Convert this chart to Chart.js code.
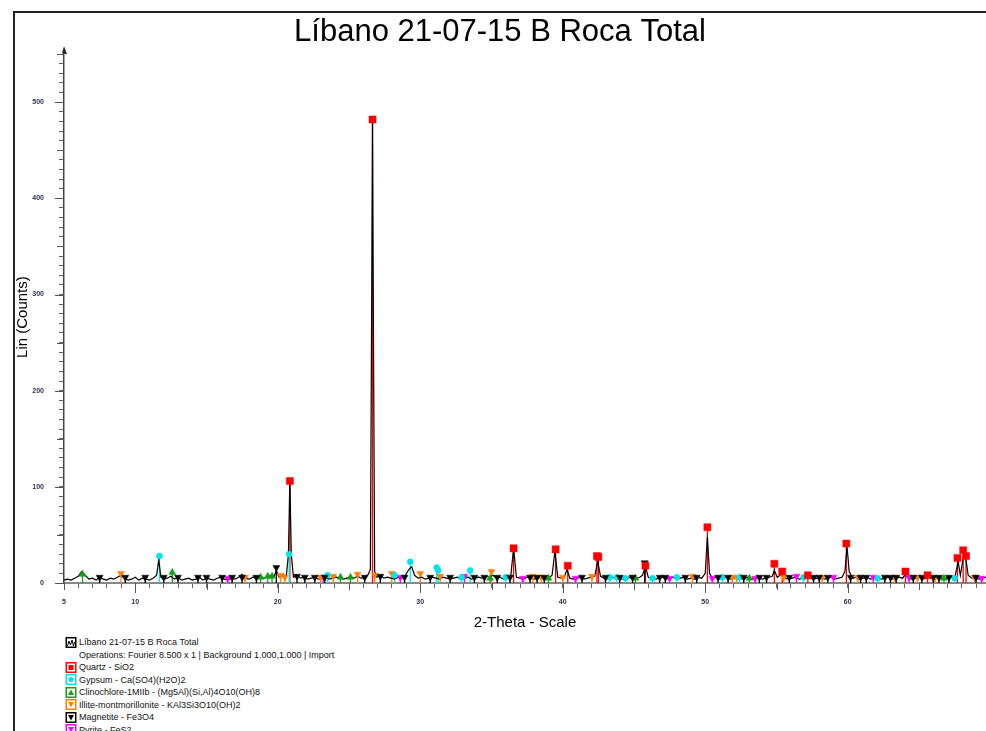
<!DOCTYPE html>
<html>
<head>
<meta charset="utf-8">
<title>Líbano 21-07-15 B Roca Total</title>
<script src="https://cdn.jsdelivr.net/npm/chart.js@4.4.1/dist/chart.umd.min.js"></script>
<style>
  html, body { margin: 0; padding: 0; background: #fff; overflow: hidden; }
  #wrap { position: relative; width: 986px; height: 731px; }
  #frame { position: absolute; left: 13px; top: 11px; width: 990px; height: 740px;
           border-left: 2px solid #222; border-top: 2px solid #222; }
  #chart-box { position: absolute; left: 0; top: 0; width: 986px; height: 632px; }
  #legend { position: absolute; left: 65px; top: 636px; font: 9px "Liberation Sans", Arial, sans-serif; color: #111; }
  #legend .row { height: 12.5px; display: flex; align-items: center; white-space: nowrap; }
  #legend .row svg { flex: none; margin-right: 2px; }
  #legend .note { padding-left: 14px; }
</style>
</head>
<body>
<div id="wrap">
  <div id="frame"></div>
  <div id="chart-box"><canvas id="xrd-chart"></canvas></div>
  <div id="legend"></div>
</div>
<script>
// Diffractogram scan (2-Theta in degrees, Lin counts)
const scanAngle = [
  5.00, 5.25, 5.50, 5.75, 6.00, 6.25, 6.50, 6.75, 7.00, 7.25,
  7.50, 7.75, 8.00, 8.25, 8.50, 8.75, 9.00, 9.25, 9.50, 9.75,
  10.00, 10.25, 10.50, 10.75, 11.00, 11.25, 11.50, 11.65, 11.80, 12.00,
  12.25, 12.50, 12.75, 13.00, 13.25, 13.50, 13.75, 14.00, 14.25, 14.50,
  14.75, 15.00, 15.25, 15.50, 15.75, 16.00, 16.25, 16.50, 16.75, 17.00,
  17.25, 17.50, 17.75, 18.00, 18.25, 18.50, 18.75, 19.00, 19.25, 19.50,
  19.75, 19.90, 20.10, 20.35, 20.60, 20.75, 20.85, 20.95, 21.10, 21.35,
  21.60, 21.85, 22.10, 22.35, 22.60, 22.85, 23.10, 23.35, 23.60, 23.85,
  24.10, 24.35, 24.60, 24.85, 25.10, 25.35, 25.60, 25.85, 26.10, 26.35,
  26.50, 26.60, 26.65, 26.70, 26.80, 26.95, 27.20, 27.45, 27.70, 27.95,
  28.20, 28.45, 28.70, 28.95, 29.20, 29.40, 29.60, 29.85, 30.10, 30.35,
  30.60, 30.85, 31.10, 31.35, 31.60, 31.85, 32.10, 32.35, 32.60, 32.85,
  33.10, 33.35, 33.60, 33.85, 34.10, 34.35, 34.60, 34.85, 35.10, 35.35,
  35.60, 35.85, 36.10, 36.35, 36.55, 36.75, 37.00, 37.25, 37.50, 37.75,
  38.00, 38.25, 38.50, 38.75, 39.00, 39.25, 39.45, 39.65, 39.90, 40.10,
  40.30, 40.50, 40.75, 41.00, 41.25, 41.50, 41.75, 42.00, 42.25, 42.45,
  42.65, 42.90, 43.15, 43.40, 43.65, 43.90, 44.15, 44.40, 44.65, 44.90,
  45.15, 45.40, 45.60, 45.80, 46.00, 46.25, 46.50, 46.75, 47.00, 47.25,
  47.50, 47.75, 48.00, 48.25, 48.50, 48.75, 49.00, 49.25, 49.50, 49.75,
  50.00, 50.15, 50.30, 50.50, 50.75, 51.00, 51.25, 51.50, 51.75, 52.00,
  52.25, 52.50, 52.75, 53.00, 53.25, 53.50, 53.75, 54.00, 54.25, 54.50,
  54.70, 54.85, 55.05, 55.35, 55.60, 55.85, 56.10, 56.35, 56.60, 56.85,
  57.10, 57.35, 57.60, 57.85, 58.10, 58.35, 58.60, 58.85, 59.10, 59.35,
  59.60, 59.80, 59.95, 60.10, 60.35, 60.60, 60.85, 61.10, 61.35, 61.60,
  61.85, 62.10, 62.35, 62.60, 62.85, 63.10, 63.35, 63.60, 63.85, 64.05,
  64.25, 64.50, 64.75, 65.00, 65.25, 65.50, 65.75, 66.00, 66.25, 66.50,
  66.75, 67.00, 67.25, 67.50, 67.75, 67.90, 68.15, 68.30, 68.45, 68.70,
  68.95, 69.20, 69.45, 69.70
];
const scanCounts = [
  3, 4, 3, 5, 7, 12, 8, 4, 5, 3,
  6, 4, 3, 5, 4, 6, 8, 5, 3, 4,
  6, 3, 5, 4, 3, 5, 8, 24, 6, 4,
  5, 7, 4, 6, 3, 4, 5, 3, 4, 6,
  3, 5, 4, 3, 5, 6, 4, 3, 5, 4,
  6, 9, 5, 4, 6, 5, 7, 5, 6, 8,
  7, 13, 6, 9, 7, 30, 108, 30, 6, 8,
  5, 6, 4, 5, 6, 4, 5, 6, 4, 5,
  6, 5, 4, 5, 6, 5, 7, 5, 6, 9,
  14, 320, 480, 310, 12, 6, 8, 5, 6, 5,
  4, 6, 5, 8, 14, 17, 8, 5, 6, 4,
  5, 6, 5, 4, 6, 5, 4, 5, 6, 4,
  5, 6, 4, 5, 6, 5, 7, 6, 8, 5,
  6, 4, 5, 7, 36, 6, 5, 4, 6, 5,
  4, 5, 6, 4, 5, 8, 33, 6, 5, 6,
  14, 5, 4, 5, 6, 4, 5, 6, 7, 23,
  7, 5, 4, 5, 6, 5, 4, 5, 6, 4,
  5, 6, 8, 18, 6, 5, 4, 5, 6, 4,
  5, 6, 4, 5, 6, 4, 5, 4, 6, 5,
  10, 48, 10, 5, 6, 4, 5, 6, 4, 5,
  6, 4, 5, 6, 4, 5, 6, 4, 5, 6,
  7, 13, 6, 9, 5, 4, 5, 6, 4, 5,
  6, 5, 4, 5, 6, 4, 5, 6, 4, 5,
  6, 12, 38, 12, 5, 6, 4, 5, 6, 4,
  5, 6, 4, 5, 6, 4, 5, 6, 5, 9,
  5, 4, 5, 6, 4, 5, 6, 4, 5, 6,
  4, 5, 6, 5, 22, 8, 30, 24, 8, 5,
  6, 4, 5, 6
];

// Reference phase lines: [2-Theta, Lin]
const quartzLines = [
  [20.85, 106], [26.65, 482], [36.55, 36], [39.5, 35], [40.35, 18], [42.4, 28], [42.5, 27],
  [45.8, 18], [50.15, 58], [54.85, 20], [55.4, 12], [57.2, 8], [59.9, 41], [64.05, 12],
  [65.6, 8], [67.7, 26], [68.1, 34], [68.3, 28]
];
const gypsumLines = [
  [11.7, 28], [20.8, 30], [23.5, 8], [28.2, 8], [29.3, 22], [31.15, 16], [31.25, 13],
  [32.9, 6], [33.5, 13], [36.0, 6], [43.3, 6], [43.8, 6], [44.4, 5], [46.3, 5],
  [48.0, 6], [51.2, 6], [52.4, 6], [56.9, 6], [62.1, 5], [67.5, 5]
];
const clinochloreLines = [
  [6.3, 9], [12.6, 11], [18.8, 6], [19.3, 7], [19.6, 7], [24.4, 6], [25.1, 6],
  [34.9, 5], [39.0, 5], [45.1, 5], [53.1, 5], [66.75, 5]
];
const illiteLines = [
  [9.0, 10], [17.7, 6], [20.2, 8], [20.5, 6], [23.0, 6], [23.9, 7], [25.6, 9],
  [26.8, 8], [28.0, 10], [30.0, 10], [31.4, 7], [35.0, 12], [37.9, 7], [38.5, 6],
  [40.0, 6], [42.05, 7], [44.9, 6], [49.1, 7], [51.9, 6], [52.2, 6], [55.5, 6],
  [58.2, 6], [60.7, 6], [63.3, 6], [64.9, 6], [66.1, 5], [68.9, 6]
];
const magnetiteLines = [
  [7.5, 6], [9.3, 6], [10.7, 6], [12.0, 6], [13.0, 6], [14.4, 6], [15.0, 6], [16.1, 6],
  [16.8, 6], [17.5, 6], [18.5, 6], [19.9, 16], [21.35, 7], [21.9, 6], [22.6, 6], [23.3, 6],
  [26.1, 6], [27.2, 7], [28.9, 6], [30.7, 6], [32.1, 6], [33.8, 6], [34.5, 6], [35.4, 6],
  [36.3, 6], [37.7, 6], [38.2, 6], [38.7, 6], [41.35, 6], [43.0, 6], [44.0, 6], [44.9, 6],
  [45.75, 21], [46.8, 6], [47.2, 6], [48.6, 6], [49.4, 6], [50.9, 6], [51.6, 6], [52.7, 6],
  [53.8, 6], [54.3, 6], [55.9, 6], [57.6, 6], [58.0, 6], [58.6, 6], [60.2, 6], [60.9, 6],
  [61.3, 6], [62.6, 6], [63.0, 6], [63.4, 6], [64.6, 6], [65.2, 6], [66.0, 6], [66.4, 6],
  [67.1, 6], [69.0, 6]
];
const pyriteLines = [
  [16.5, 5], [23.2, 6], [28.6, 6], [33.1, 7], [37.2, 5], [40.9, 5], [47.5, 5], [50.5, 5],
  [53.5, 5], [56.4, 7], [59.0, 6], [61.8, 6], [64.3, 6], [69.4, 5]
];

const scanName = 'Líbano 21-07-15 B Roca Total';
const operationsNote = 'Operations: Fourier 8.500 x 1 | Background 1.000,1.000 | Import';
const phaseNames = [
  'Quartz  - SiO2',
  'Gypsum - Ca(SO4)(H2O)2',
  'Clinochlore-1MIIb - (Mg5Al)(Si,Al)4O10(OH)8',
  'Illite-montmorillonite - KAl3Si3O10(OH)2',
  'Magnetite - Fe3O4',
  'Pyrite - FeS2'
];

Chart.defaults.font.family = '"Liberation Sans", Arial, sans-serif';

const toXY = list => list.map(p => ({ x: p[0], y: p[1] }));

function phaseDataset(name, lines, color, style, rotation, radius, order) {
  return {
    label: name,
    data: toXY(lines),
    showLine: false,
    sticks: true,
    borderColor: color,
    backgroundColor: color,
    pointStyle: style,
    rotation: rotation,
    pointRadius: radius,
    pointBorderWidth: 0.5,
    order: order
  };
}

// vertical stick under each reference line
const phaseSticks = {
  id: 'phaseSticks',
  beforeDatasetsDraw(chart) {
    const { ctx, chartArea, scales: { x, y } } = chart;
    ctx.save();
    ctx.beginPath();
    ctx.rect(chartArea.left, chartArea.top, chartArea.width, chartArea.height);
    ctx.clip();
    ctx.lineWidth = 1.3;
    chart.data.datasets.forEach(ds => {
      if (!ds.sticks) return;
      ctx.strokeStyle = ds.borderColor;
      ds.data.forEach(p => {
        const px = x.getPixelForValue(p.x);
        ctx.beginPath();
        ctx.moveTo(px, y.getPixelForValue(0));
        ctx.lineTo(px, y.getPixelForValue(p.y));
        ctx.stroke();
      });
    });
    ctx.restore();
  }
};

// longer ticks on the round values, and the arrow on top of the Lin axis
const axisMarks = {
  id: 'axisMarks',
  afterDraw(chart) {
    const { ctx, chartArea, scales: { x, y } } = chart;
    ctx.save();
    ctx.strokeStyle = '#555';
    ctx.lineWidth = 1;
    y.ticks.forEach(t => {
      const len = t.value % 100 === 0 ? 9 : (t.value % 50 === 0 ? 7 : 0);
      if (!len) return;
      const py = Math.round(y.getPixelForValue(t.value)) + 0.5;
      ctx.beginPath();
      ctx.moveTo(chartArea.left, py);
      ctx.lineTo(chartArea.left - len, py);
      ctx.stroke();
    });
    x.ticks.forEach(t => {
      const len = t.value % 10 === 0 ? 10 : (t.value % 5 === 0 ? 7 : 0);
      if (!len) return;
      const px = Math.round(x.getPixelForValue(t.value)) + 0.5;
      ctx.beginPath();
      ctx.moveTo(px, chartArea.bottom);
      ctx.lineTo(px, chartArea.bottom + len);
      ctx.stroke();
    });
    ctx.fillStyle = '#222';
    ctx.beginPath();
    ctx.moveTo(chartArea.left, chartArea.top - 5);
    ctx.lineTo(chartArea.left + 3, chartArea.top + 3);
    ctx.lineTo(chartArea.left - 2, chartArea.top + 2);
    ctx.closePath();
    ctx.fill();
    ctx.restore();
  }
};

const tickFont = { size: 7, weight: 'bold' };

const xrdChart = new Chart(document.getElementById('xrd-chart'), {
  type: 'scatter',
  data: {
    datasets: [
      {
        label: scanName,
        data: scanAngle.map((a, i) => ({ x: a, y: scanCounts[i] })),
        showLine: true,
        borderColor: '#000',
        backgroundColor: '#000',
        borderWidth: 1.2,
        pointRadius: 0,
        tension: 0,
        order: 10
      },
      phaseDataset(phaseNames[0], quartzLines, '#ff0000', 'rect', 0, 5, 1),
      phaseDataset(phaseNames[1], gypsumLines, '#00e5e5', 'circle', 0, 3, 3),
      phaseDataset(phaseNames[2], clinochloreLines, '#14a014', 'triangle', 0, 4, 4),
      phaseDataset(phaseNames[3], illiteLines, '#ff7f0e', 'triangle', 180, 4, 5),
      phaseDataset(phaseNames[4], magnetiteLines, '#000000', 'triangle', 180, 4, 2),
      phaseDataset(phaseNames[5], pyriteLines, '#ff00ff', 'triangle', 180, 4, 6)
    ]
  },
  options: {
    responsive: true,
    maintainAspectRatio: false,
    animation: false,
    layout: { autoPadding: false, padding: { left: 14, right: 0, top: 0, bottom: 0 } },
    plugins: {
      legend: { display: false },
      tooltip: { enabled: false },
      title: {
        display: true,
        text: scanName,
        color: '#000',
        font: { size: 31, weight: 'normal' },
        padding: { top: 14, bottom: 0 }
      }
    },
    scales: {
      x: {
        type: 'linear',
        min: 5,
        max: 69.7,
        afterFit: s => { s.height = 49; },
        border: { display: true, color: '#888', width: 2 },
        grid: { drawOnChartArea: false, drawTicks: true, tickLength: 5, tickColor: '#666' },
        ticks: {
          stepSize: 1,
          includeBounds: false,
          autoSkip: false,
          maxRotation: 0,
          padding: 10,
          color: '#2e2e48',
          font: tickFont,
          callback: v => (v === 5 || v % 10 === 0) ? String(v) : ''
        },
        title: { display: true, text: '2-Theta - Scale', color: '#000', font: { size: 15 }, padding: 0 }
      },
      y: {
        min: 0,
        max: 553,
        afterFit: s => { s.width = 50; },
        border: { display: true, color: '#444', width: 1.5 },
        grid: { drawOnChartArea: false, drawTicks: true, tickLength: 5, tickColor: '#666' },
        ticks: {
          stepSize: 10,
          includeBounds: false,
          autoSkip: false,
          padding: 15,
          color: '#2e2e48',
          font: tickFont,
          callback: v => v % 100 === 0 ? String(v) : ''
        },
        title: { display: true, text: 'Lin (Counts)', color: '#000', font: { size: 15 }, padding: 0 }
      }
    }
  },
  plugins: [phaseSticks, axisMarks]
});

// legend list under the plot, built from the datasets
function legendIcon(ds) {
  const c = ds.borderColor;
  let inner = '';
  if (!ds.sticks) {
    inner = '<polyline points="2,9 3.5,4 5,8 6.5,3 8,9 9,5" fill="none" stroke="#000" stroke-width="1"/>';
  } else if (ds.pointStyle === 'rect') {
    inner = `<rect x="3" y="3" width="5" height="5" fill="${c}"/>`;
  } else if (ds.pointStyle === 'circle') {
    inner = `<circle cx="5.5" cy="5.5" r="2.6" fill="${c}"/>`;
  } else if (ds.rotation === 180) {
    inner = `<polygon points="2.5,3 8.5,3 5.5,8.5" fill="${c}"/>`;
  } else {
    inner = `<polygon points="5.5,2.5 8.5,8 2.5,8" fill="${c}"/>`;
  }
  return `<svg width="12" height="11" viewBox="0 0 11 11"><rect x="0.75" y="0.75" width="9.5" height="9.5" fill="#fff" stroke="${c}" stroke-width="1.5"/>${inner}</svg>`;
}

const legendBox = document.getElementById('legend');
xrdChart.data.datasets.forEach((ds, i) => {
  const row = document.createElement('div');
  row.className = 'row';
  row.innerHTML = legendIcon(ds) + '<span></span>';
  row.querySelector('span').textContent = ds.label;
  legendBox.appendChild(row);
  if (i === 0) {
    const note = document.createElement('div');
    note.className = 'row note';
    note.textContent = operationsNote;
    legendBox.appendChild(note);
  }
});
</script>
</body>
</html>
